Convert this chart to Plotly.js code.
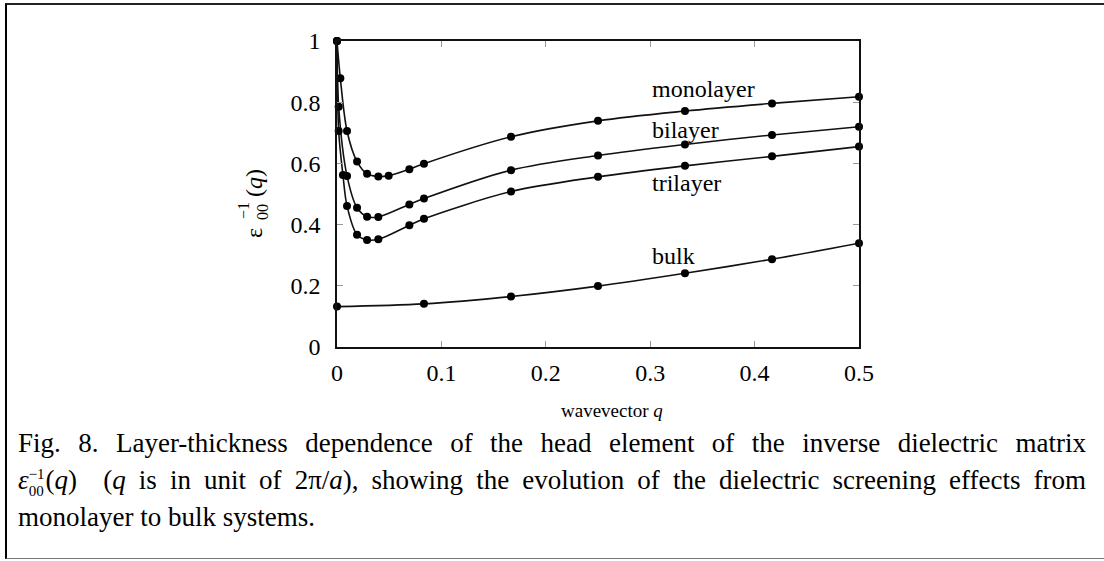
<!DOCTYPE html>
<html>
<head>
<meta charset="utf-8">
<script src="https://cdn.plot.ly/plotly-3.0.1.min.js"></script>
<style>
  html, body { margin: 0; padding: 0; width: 1104px; height: 561px; overflow: hidden; background: #fff; }
  #chart { position: absolute; left: 0; top: 0; width: 1104px; height: 561px; }
  #frame { position: absolute; left: 5px; top: 3px; width: 1200px; height: 553px;
           border-top: 2px solid #222; border-left: 2px solid #000; border-bottom: 1px solid #777;
           pointer-events: none; }
  #caption { position: absolute; left: 18px; top: 425px; width: 1068px;
             font-family: "Liberation Serif", "Times New Roman", serif; font-size: 27px;
             color: #000; }
  #caption div { height: 37px; line-height: 37px; white-space: nowrap; }
  #caption .j { text-align: justify; text-align-last: justify; white-space: normal; }
  .m { font-style: italic; }
  .stack { display: inline-block; vertical-align: -7px; font-size: 15px; text-align: left; margin-right: 1px; }
  #caption .stack span { display: block; height: 17px; line-height: 17px; }
</style>
</head>
<body>
<div id="chart"></div>
<div id="frame"></div>
<div id="caption">
  <div class="j">Fig. 8. Layer-thickness dependence of the head element of the inverse dielectric matrix</div>
  <div class="j"><span class="m">ε</span><span class="stack"><span>−1</span><span>00</span></span>(<span class="m">q</span>)&nbsp; (<span class="m">q</span> is in unit of 2π/<span class="m">a</span>), showing the evolution of the dielectric screening effects from</div>
  <div>monolayer to bulk systems.</div>
</div>
<script>
// wavevector q (units of 2π/a) and head element ε00^-1(q)
const qMono = [0, 0.0032, 0.0096, 0.0192, 0.0288, 0.0396, 0.0495, 0.0693, 0.0833, 0.1667, 0.25, 0.3333, 0.4167, 0.5];
const epsMono = [1.0, 0.878, 0.706, 0.606, 0.566, 0.557, 0.560, 0.581, 0.599, 0.687, 0.739, 0.771, 0.796, 0.818];

const qBi = [0, 0.0016, 0.0096, 0.0192, 0.0288, 0.0396, 0.0693, 0.0833, 0.1667, 0.25, 0.3333, 0.4167, 0.5];
const epsBi = [1.0, 0.785, 0.559, 0.455, 0.426, 0.425, 0.466, 0.485, 0.578, 0.626, 0.662, 0.693, 0.720];

const qTri = [0, 0.0016, 0.0057, 0.0096, 0.0192, 0.0288, 0.0396, 0.0693, 0.0833, 0.1667, 0.25, 0.3333, 0.4167, 0.5];
const epsTri = [1.0, 0.706, 0.562, 0.461, 0.367, 0.350, 0.352, 0.398, 0.419, 0.508, 0.556, 0.592, 0.623, 0.655];

const qBulk = [0, 0.0833, 0.1667, 0.25, 0.3333, 0.4167, 0.5];
const epsBulk = [0.132, 0.141, 0.165, 0.199, 0.241, 0.287, 0.339];

const seriesNames = ["monolayer", "bilayer", "trilayer", "bulk"];
const labelPos = [[0.3, 0.843], [0.3, 0.709], [0.3, 0.536], [0.3, 0.297]];

const xTicks = [0, 0.1, 0.2, 0.3, 0.4, 0.5];
const xTickText = ["0", "0.1", "0.2", "0.3", "0.4", "0.5"];
const yTicks = [0, 0.2, 0.4, 0.6, 0.8, 1];
const yTickText = ["0", "0.2", "0.4", "0.6", "0.8", "1"];

const serif = "Liberation Serif, Times New Roman, serif";
const qs = [qMono, qBi, qTri, qBulk];
const es = [epsMono, epsBi, epsTri, epsBulk];

const traces = qs.map((q, i) => ({
  x: q, y: es[i], name: seriesNames[i], type: "scatter", mode: "lines+markers",
  line: { color: "#111", width: 1.6, shape: "spline", smoothing: 0.9 },
  marker: { color: "#000", size: 8 },
  cliponaxis: false, showlegend: false, hoverinfo: "x+y"
}));

const W = 1104, H = 561, L = 337, R = 859, T = 41, B = 347;
function px(x) { return (x - L) / (R - L); }
function py(y) { return (B - y) / (B - T); }

const annotations = seriesNames.map((n, i) => ({
  x: labelPos[i][0], y: labelPos[i][1], xref: "x", yref: "y", text: n,
  showarrow: false, xanchor: "left", yanchor: "middle",
  font: { family: serif, size: 24, color: "#000" }
}));

annotations.push(
  { x: px(612), y: py(410), xref: "paper", yref: "paper", text: "wavevector <i>q</i>",
    showarrow: false, xanchor: "center", yanchor: "middle", font: { family: serif, size: 19, color: "#000" } },
  { x: px(254), y: py(233), xref: "paper", yref: "paper", text: "ε", textangle: -90,
    showarrow: false, xanchor: "center", yanchor: "middle", font: { family: serif, size: 24, color: "#000" } },
  { x: px(262), y: py(212), xref: "paper", yref: "paper", text: "00", textangle: -90,
    showarrow: false, xanchor: "center", yanchor: "middle", font: { family: serif, size: 16, color: "#000" } },
  { x: px(243), y: py(211), xref: "paper", yref: "paper", text: "−1", textangle: -90,
    showarrow: false, xanchor: "center", yanchor: "middle", font: { family: serif, size: 16, color: "#000" } },
  { x: px(254), y: py(183), xref: "paper", yref: "paper", text: "(<i>q</i>)", textangle: -90,
    showarrow: false, xanchor: "center", yanchor: "middle", font: { family: serif, size: 24, color: "#000" } }
);

const axisCommon = {
  showgrid: false, zeroline: false, showline: true, linecolor: "#111", linewidth: 1.6,
  mirror: "ticks", ticks: "inside", ticklen: 6, tickwidth: 1, tickcolor: "#999",
  tickfont: { family: serif, size: 24, color: "#000" }, fixedrange: true
};

const layout = {
  width: W, height: H,
  margin: { l: L, r: W - R, t: T, b: H - B, pad: 0 },
  paper_bgcolor: "#fff", plot_bgcolor: "#fff",
  xaxis: Object.assign({}, axisCommon, { range: [0, 0.5], tickvals: xTicks, ticktext: xTickText, ticklabelstandoff: 4 }),
  yaxis: Object.assign({}, axisCommon, { range: [0, 1], tickvals: yTicks, ticktext: yTickText, ticklabelstandoff: 10 }),
  annotations: annotations, showlegend: false
};

Plotly.newPlot("chart", traces, layout, { displayModeBar: false, staticPlot: true });
</script>
</body>
</html>
